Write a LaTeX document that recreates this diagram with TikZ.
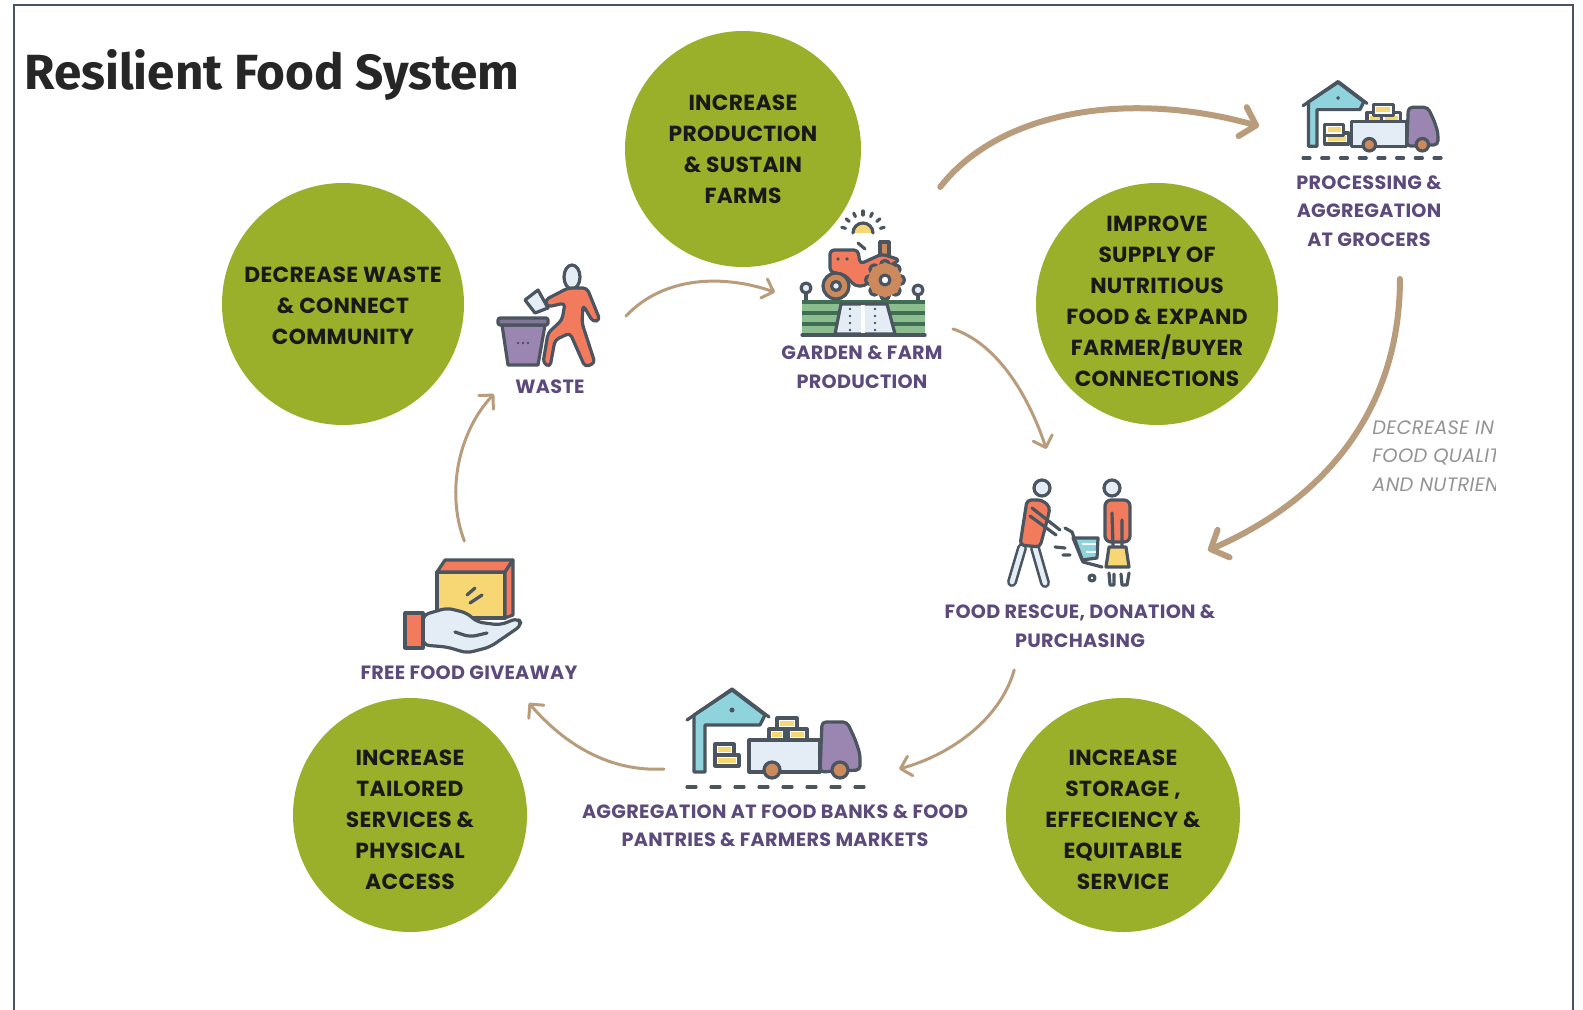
\documentclass[tikz,border=0pt]{standalone}
\usepackage{fontspec}
\setmainfont{Fira Sans}
\newfontfamily\capsfont[LetterSpace=1.5]{Poppins}
\usetikzlibrary{arrows.meta}

\definecolor{leaf}{HTML}{9BB02A}
\definecolor{tan}{HTML}{B89C7C}
\definecolor{grape}{HTML}{5C4A7C}
\definecolor{ink}{HTML}{4A5560}
\definecolor{teal}{HTML}{8FD3DC}
\definecolor{pale}{HTML}{E4EDF6}
\definecolor{lilac}{HTML}{9A86B0}
\definecolor{straw}{HTML}{F7D774}
\definecolor{coral}{HTML}{F27B5E}
\definecolor{rust}{HTML}{CC8A5C}
\definecolor{crop}{HTML}{8CBD8E}
\definecolor{cropline}{HTML}{3F6E55}

\tikzset{
  icon/.style = {draw = ink, line width = 1.6pt, line join = round, line cap = round},
  pics/crate/.style = {code = {
    \path[icon, fill = white] (0,0) rectangle (#1,11);
    \fill[straw] (3,3) rectangle (#1-3,8);
  }},
  pics/depot/.style = {code = {
    \path[icon, fill = teal] (7,-15) -- (7,-72) -- (45,-97) -- (78,-72) -- (73,-62) -- (18,-62) -- (18,-15) -- cycle;
    \draw[icon] (0,-67) -- (45,-98) -- (82,-70);
    \fill[ink] (45,-77) circle (2.5);
    \path (28,-32) pic {crate = 24} (28,-43) pic {crate = 19} (82,-58) pic {crate = 16}
          (101,-58) pic {crate = 19} (90,-69) pic {crate = 20};
    \path[icon, fill = pale] (62,-47) rectangle (133,-15);
    \path[icon, fill = lilac, rounded corners = 2pt] (133,-15) -- (135,-65) -- (160,-65) -- (168,-48) -- (173,-33) -- (173,-17) -- cycle;
    \path[icon, fill = rust] (85,-17) circle (8) (153,-17) circle (8);
    \foreach \i in {0,...,7} {
      \draw[icon] (\i*24,0) -- ++(9,0);
    }
  }},
  pics/farm/.style = {code = {
    \foreach \a in {-165,-140,...,-15} {
      \draw[icon] (93,33) ++(\a:18) -- ++(\a:4);
    }
    \path[icon, fill = straw] (83,33) arc[start angle = 180, end angle = 0, x radius = 10, y radius = -10];
    \draw[icon] (88,43) -- (95,49);
    \path[icon, fill = rust] (110,42) rectangle (119,56);
    \path[icon, fill = coral, rounded corners = 2pt] (60,72) -- (60,50) -- (88,50) -- (90,64) -- (112,54) -- (130,60) -- (108,72) -- (95,86) -- (85,86) -- (75,75) -- cycle;
    \fill[ink] (68,59) circle (1.8) (77,59) circle (1.8);
    \path[icon, fill = rust] (66,86) circle (13);
    \path[icon, fill = pale] (66,86) circle (4.5);
    \foreach \a in {0,45,...,315} {
      \path[icon, fill = rust] (115,80) ++(\a:15) circle (4.5);
    }
    \path[fill = rust] (115,80) circle (16.5);
    \path[icon, fill = white] (115,80) circle (5);
    \draw[icon] (36,93) -- (36,102) (148,95) -- (148,102);
    \path[icon, fill = pale] (36,88) circle (5) (148,90) circle (5);
    \fill[crop] (32,102) rectangle (155,135);
    \foreach \y in {102,113,124,135} {
      \draw[cropline, line width = 1.6pt] (32,\y) -- (155,\y);
    }
    \path[icon, fill = pale] (71,104) -- (117,104) -- (125,134) -- (65,134) -- cycle;
    \draw[white, line width = 2pt] (93,105) -- (93,133);
    \foreach \y in {109,116,123,130} {
      \fill[ink] (80,\y) circle (1.3) (105,\y) circle (1.3);
    }
    \draw[icon] (32,135) -- (155,135);
  }},
  pics/litter/.style = {code = {
    \path[icon, fill = pale] (45,50) -- (58,40) -- (68,58) -- (55,63) -- cycle;
    \path[icon, fill = lilac] (22,75) -- (65,75) -- (58,115) -- (28,115) -- cycle;
    \path[icon, fill = lilac!70!ink, rounded corners = 1pt] (18,68) rectangle (68,75);
    \foreach \x in {38,43,48} {
      \fill[ink] (\x,93) circle (1.3);
    }
    \path[icon, fill = pale] (92,27) ellipse [x radius = 8, y radius = 12];
    \path[icon, fill = coral, rounded corners = 2pt] (65,50) -- (88,38) -- (107,38) -- (120,70) -- (113,72) -- (103,55) -- (102,73) -- (115,113) -- (105,117) -- (90,83) -- (75,90) -- (70,117) -- (63,113) -- (68,83) -- (82,70) -- (85,53) -- (67,57) -- cycle;
  }},
  pics/shoppers/.style = {code = {
    \draw[ink, line width = 5pt, line cap = round] (32,78) -- (22,112) (45,78) -- (55,113);
    \draw[pale, line width = 2.4pt, line cap = round] (32,78) -- (22,112) (45,78) -- (55,113);
    \path[icon, fill = coral, rounded corners = 2pt] (37,30) -- (52,30) -- (60,37) -- (58,47) -- (50,77) -- (30,75) -- cycle;
    \draw[icon] (42,38) -- (70,60) (40,46) -- (66,65);
    \path[icon, fill = pale] (52,18) circle (8);
    \path[icon, fill = teal] (83,68) -- (108,68) -- (107,88) -- (92,90) -- cycle;
    \draw[icon] (75,58) -- (82,62) -- (93,92) -- (112,97);
    \draw[white, line width = 1pt] (92,74) -- (106,74) (96,82) -- (106,82);
    \draw[icon] (65,77) -- (75,78) (73,85) -- (80,85);
    \path[icon, fill = white] (102,108) circle (3);
    \path[icon, fill = coral, rounded corners = 3pt] (115,30) -- (140,30) -- (140,72) -- (115,72) -- cycle;
    \draw[icon] (122,43) -- (123,76) (132,50) -- (132,76);
    \path[icon, fill = straw] (119,77) -- (136,77) -- (139,97) -- (116,97) -- cycle;
    \path[icon, fill = pale] (122,18) circle (8);
    \draw[icon] (119,103) -- (120,115) -- (124,115) -- (124,104)
                (131,104) -- (132,115) -- (137,115) -- (139,103);
  }},
  pics/giveaway/.style = {code = {
    \path[icon, fill = straw] (47,22) rectangle (115,68);
    \path[icon, fill = coral] (47,22) -- (55,10) -- (123,10) -- (115,22) -- cycle;
    \path[icon, fill = coral] (115,22) -- (123,10) -- (123,65) -- (115,68) -- cycle;
    \draw[icon] (77,45) -- (85,38) (80,53) -- (92,45);
    \path[icon, fill = pale, rounded corners = 3pt] (33,65) -- (57,58) -- (77,63) -- (87,72) -- (110,75) -- (128,68) -- (132,75) -- (100,97) -- (77,103) -- (57,97) -- (33,95) -- cycle;
    \draw[icon, rounded corners = 3pt] (65,82) -- (80,87) -- (97,83);
    \path[icon, fill = coral] (15,63) rectangle (33,98);
  }}
}

\begin{document}
\begin{tikzpicture}[x = 0.5pt, y = -0.5pt,
    disc/.style = {circle, fill = leaf, inner sep = 0pt, minimum size = #1*1pt},
    goal/.style = {align = center, inner sep = 0pt, font = \capsfont\bfseries\fontsize{10.9}{15.5}\selectfont, text = black!90},
    tag/.style = {align = center, inner sep = 0pt, font = \capsfont\bfseries\fontsize{9.6}{14.2}\selectfont, text = grape},
    station/.style 2 args = {inner sep = 0pt, outer sep = 0pt, minimum width = #1*0.5pt, minimum height = #2*0.5pt},
    flow/.style = {tan, line width = 1.5pt, line cap = round, -{Straight Barb[length = 5pt, width = 10pt, round]}},
    mainflow/.style = {tan, line width = 3pt, line cap = round, -{Straight Barb[length = 7pt, width = 15pt, round]}}]
  \useasboundingbox (0,0) rectangle (1583,1010);
  \draw[ink, line width = 0.8pt] (14,1010) -- (14,5) -- (1573,5) -- (1573,1010);

  \node[anchor = west, inner sep = 0pt, font = \bfseries\fontsize{24.7}{30}\selectfont, text = black!85] (title) at (24,75) {Resilient Food System};

  \node[disc = 118] (production) at (743,149) {};
  \node[disc = 121] (decrease) at (343,304) {};
  \node[disc = 121] (supply) at (1157,304) {};
  \node[disc = 117] (tailored) at (410,815) {};
  \node[disc = 117] (storage) at (1123,815) {};

  \node[goal] (productiontext) at (743,149) {INCREASE\\PRODUCTION\\\& SUSTAIN\\FARMS};
  \node[goal] (decreasetext) at (343,306) {DECREASE WASTE\\\& CONNECT\\COMMUNITY};
  \node[goal] (supplytext) at (1157,301) {IMPROVE\\SUPPLY OF\\NUTRITIOUS\\FOOD \& EXPAND\\FARMER/BUYER\\CONNECTIONS};
  \node[goal] (tailoredtext) at (410,820) {INCREASE\\TAILORED\\SERVICES \&\\PHYSICAL\\ACCESS};
  \node[goal] (storagetext) at (1123,820) {INCREASE\\STORAGE ,\\EFFECIENCY \&\\EQUITABLE\\SERVICE};

  \node[station = {178}{226}] (farm) at (864,300) {};
  \node[station = {132}{128}] (waste) at (560,330) {};
  \node[station = {216}{162}] (free) at (470,622) {};
  \node[station = {235}{160}] (aggregation) at (781.5,769) {};
  \node[station = {260}{221}] (rescue) at (1078,559.5) {};
  \node[station = {191}{204}] (processing) at (1354.5,177) {};

  \pic at (770,200) {farm};
  \pic at (480,250) {litter};
  \pic at (990,470) {shoppers};
  \pic at (390,550) {giveaway};
  \pic at (687,787) {depot};
  \pic[scale = 0.78] at (1303,158) {depot};

  \node[tag] (farmtag) at (862,367) {GARDEN \& FARM\\PRODUCTION};
  \node[tag] (wastetag) at (550,387) {WASTE};
  \node[tag] (freetag) at (469,673) {FREE FOOD GIVEAWAY};
  \node[tag] (aggregationtag) at (775,826) {AGGREGATION AT FOOD BANKS \& FOOD\\PANTRIES \& FARMERS MARKETS};
  \node[tag] (rescuetag) at (1080,626) {FOOD RESCUE, DONATION \&\\PURCHASING};
  \node[tag] (processingtag) at (1369,211) {PROCESSING \&\\AGGREGATION\\AT GROCERS};

  \begin{scope}
    \clip (1360,410) rectangle (1495,500);
    \node[anchor = west, align = left, inner sep = 0pt, text = gray!85, font = \capsfont\itshape\fontsize{9.7}{14.2}\selectfont] (loss) at (1372,456) {DECREASE IN\\FOOD QUALIT\\AND NUTRIEN};
  \end{scope}

  \draw[mainflow] (farm.56.4) .. controls (1000,110) and (1130,90) .. (processing.152.8);
  \draw[mainflow] (processing.-66.9) .. controls (1400,400) and (1335,495) .. (rescue.4.2);
  \draw[flow] (farm.-18.6) .. controls (1000,345) and (1030,400) .. (rescue.106.6);
  \draw[flow] (rescue.-120.1) .. controls (1000,720) and (950,755) .. (aggregation.east);
  \draw[flow] (aggregation.west) .. controls (610,772) and (565,745) .. (free.-54.4);
  \draw[flow] (free.94.2) .. controls (445,490) and (460,430) .. (waste.south west);
  \draw[flow] (waste.12) .. controls (665,275) and (725,275) .. (farm.175.5);
\end{tikzpicture}
\end{document}
